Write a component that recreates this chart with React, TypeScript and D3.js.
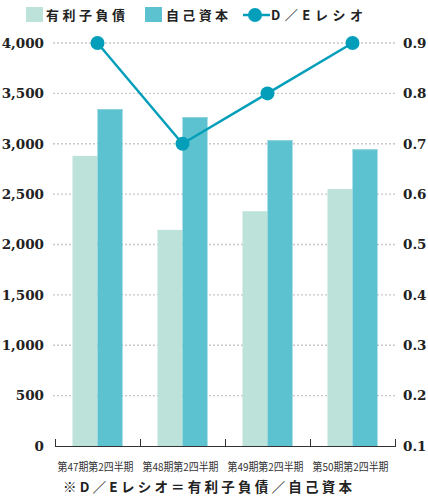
import React from "react";
import * as d3 from "d3";

const categories = ["第47期第2四半期", "第48期第2四半期", "第49期第2四半期", "第50期第2四半期"];
const debt = [2880, 2145, 2330, 2550];
const equity = [3345, 3265, 3035, 2945];
const deRatio = [0.9, 0.7, 0.8, 0.9];
const leftTicks = [0, 500, 1000, 1500, 2000, 2500, 3000, 3500, 4000];
const rightTicks = [0.1, 0.2, 0.3, 0.4, 0.5, 0.6, 0.7, 0.8, 0.9];
const seriesNames = ["有利子負債", "自己資本", "D／Eレシオ"];

const W = 428, H = 496;
const X0 = 55, X1 = 395, Y0 = 446, Y1 = 43;
const C_LIGHT = "#bde2d9";
const C_DARK = "#5cc2cf";
const C_LINE = "#039fba";
const NUM_FONT = "'DejaVu Serif', serif";
const CJK_FONT = "'Noto Sans CJK JP', sans-serif";

export default function App() {
  const x = d3.scaleBand<string>().domain(categories).range([X0, X1]).paddingInner(0).paddingOuter(0);
  const xs = d3.scaleBand<string>().domain(["debt", "equity"]).range([0, x.bandwidth()]).paddingInner(0).paddingOuter(0.7);
  const yL = d3.scaleLinear().domain([0, 4000]).range([Y0, Y1]);
  const yR = d3.scaleLinear().domain([0.1, 0.9]).range([Y0, Y1]);
  const cx = (c: string) => (x(c) as number) + x.bandwidth() / 2;
  const line = d3.line<number>().x((_, i) => cx(categories[i])).y((d) => yR(d));

  return (
    <div style={{ position: "absolute", left: 0, top: 0 }}>
      <svg width={W} height={H} style={{ display: "block", background: "#fff" }}>
        {/* gridlines */}
        {leftTicks.slice(1).map((t) => (
          <line key={t} x1={53} x2={397} y1={yL(t)} y2={yL(t)} stroke="#c8c8c8" strokeWidth={1.3} strokeDasharray="2 2" />
        ))}
        {/* bars */}
        {categories.map((c, i) => (
          <g key={c}>
            <rect x={(x(c) as number) + (xs("debt") as number)} y={yL(debt[i])} width={xs.bandwidth()} height={Y0 - yL(debt[i])} fill={C_LIGHT} />
            <rect x={(x(c) as number) + (xs("equity") as number)} y={yL(equity[i])} width={xs.bandwidth()} height={Y0 - yL(equity[i])} fill={C_DARK} />
            <rect x={(x(c) as number) + (xs("equity") as number)} y={yL(equity[i])} width={xs.bandwidth()} height={1} fill="#8fd3dc" />
          </g>
        ))}
        {/* x axis */}
        <line x1={X0} x2={X1} y1={Y0 + 0.5} y2={Y0 + 0.5} stroke="#333" strokeWidth={1} />
        {[...categories.map((c) => x(c) as number), X1].map((px, i) => (
          <line key={i} x1={px + 0.5} x2={px + 0.5} y1={Y0 + 1} y2={Y0 - 7} stroke="#333" strokeWidth={1} />
        ))}
        {categories.map((c) => (
          <text key={c} x={cx(c) - 2} y={471} textAnchor="middle" fontFamily={CJK_FONT} fontSize={11} fill="#333"
            textLength={76} lengthAdjust="spacingAndGlyphs">{c}</text>
        ))}
        {/* left ticks */}
        {leftTicks.map((t) => (
          <text key={t} x={44} y={yL(t)} dy="0.36em" textAnchor="end" fontFamily={NUM_FONT} fontSize={13.5} fontWeight="bold" fill="#222">
            {d3.format(",")(t)}
          </text>
        ))}
        {/* right ticks */}
        {rightTicks.map((t) => (
          <text key={t} x={403} y={yR(t)} dy="0.36em" textAnchor="start" fontFamily={NUM_FONT} fontSize={13.5} fontWeight="bold" fill="#222">
            {d3.format(".1f")(t)}
          </text>
        ))}
        {/* line */}
        <path d={line(deRatio) || ""} fill="none" stroke={C_LINE} strokeWidth={2.5} />
        {deRatio.map((d, i) => (
          <circle key={i} cx={cx(categories[i])} cy={yR(d)} r={7} fill={C_LINE} />
        ))}
        {/* legend */}
        <rect x={26} y={7} width={17} height={15} fill={C_LIGHT} />
        <text x={46} y={15} dy="0.36em" fontFamily={CJK_FONT} fontWeight="bold" fontSize={13} fill="#222" textLength={79} lengthAdjust="spacing">{seriesNames[0]}</text>
        <rect x={145} y={7} width={17} height={15} fill={C_DARK} />
        <text x={166} y={15} dy="0.36em" fontFamily={CJK_FONT} fontWeight="bold" fontSize={13} fill="#222" textLength={62} lengthAdjust="spacing">{seriesNames[1]}</text>
        <line x1={243} x2={270} y1={15} y2={15} stroke={C_LINE} strokeWidth={2.5} />
        <circle cx={255} cy={15} r={7} fill={C_LINE} />
        <text x={271} y={15} dy="0.36em" fontFamily={CJK_FONT} fontWeight="bold" fontSize={13} fill="#222" textLength={92} lengthAdjust="spacing">{seriesNames[2]}</text>
        {/* footnote */}
        <text x={63} y={487} dy="0.36em" fontFamily={CJK_FONT} fontWeight="bold" fontSize={13.5} fill="#222" textLength={289} lengthAdjust="spacing">
          ※D／Eレシオ＝有利子負債／自己資本
        </text>
      </svg>
    </div>
  );
}
